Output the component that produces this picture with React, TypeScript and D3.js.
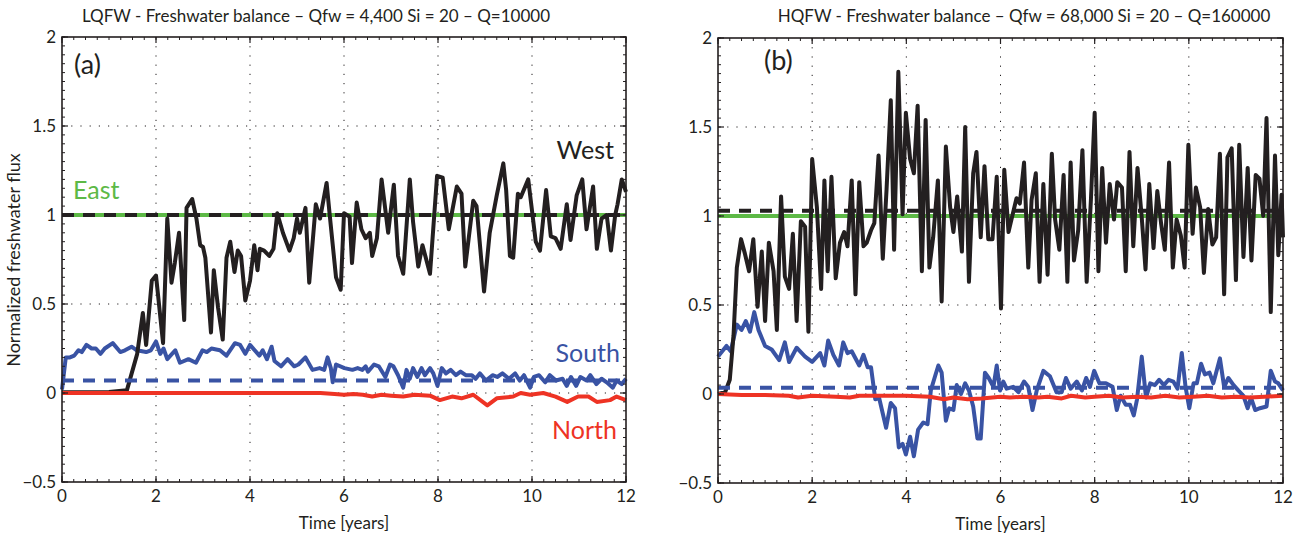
import React from "react";
import * as d3 from "d3";

// ---- data: [time (years), normalized flux] ----
const westA: [number, number][] = [
  [0, 0.004], [0.5, 0.004], [1.0, 0.006], [1.38, 0.015], [1.6, 0.22], [1.72, 0.45], [1.79, 0.27], [1.91, 0.63],
  [2.0, 0.66], [2.15, 0.28], [2.24, 0.98], [2.33, 0.62], [2.4, 0.73], [2.49, 0.9], [2.6, 0.41], [2.65, 1.04],
  [2.77, 1.09], [2.86, 0.98], [2.94, 0.83], [3.0, 0.82], [3.05, 0.76], [3.17, 0.34], [3.23, 0.69], [3.32, 0.48],
  [3.42, 0.3], [3.5, 0.76], [3.58, 0.85], [3.67, 0.68], [3.74, 0.8], [3.81, 0.77], [3.9, 0.52], [4.0, 0.63],
  [4.09, 0.83], [4.16, 0.69], [4.21, 0.81], [4.3, 0.8], [4.41, 0.77], [4.5, 0.81], [4.58, 1.01], [4.7, 0.9],
  [4.84, 0.8], [4.93, 0.87], [5.0, 0.98], [5.06, 0.9], [5.18, 1.04], [5.26, 0.62], [5.4, 1.06], [5.49, 0.98],
  [5.63, 1.18], [5.7, 0.99], [5.83, 0.65], [5.93, 0.58], [6.0, 1.01], [6.12, 0.99], [6.17, 0.73], [6.27, 1.07],
  [6.37, 0.92], [6.46, 0.87], [6.55, 0.9], [6.6, 0.77], [6.7, 0.87], [6.8, 1.2], [6.94, 0.9], [7.06, 1.17],
  [7.15, 0.77], [7.26, 0.67], [7.4, 1.2], [7.47, 0.96], [7.58, 0.71], [7.67, 0.83], [7.83, 0.67], [7.98, 1.22],
  [8.1, 1.21], [8.23, 0.92], [8.4, 1.16], [8.5, 1.12], [8.58, 0.71], [8.75, 1.08], [8.82, 1.05], [8.98, 0.57],
  [9.1, 0.9], [9.25, 1.11], [9.39, 1.29], [9.45, 1.14], [9.53, 0.77], [9.6, 0.76], [9.7, 1.12], [9.76, 1.1],
  [9.92, 1.2], [10.08, 0.85], [10.17, 0.8], [10.3, 1.14], [10.4, 0.88], [10.5, 0.87], [10.61, 0.81], [10.74, 1.06],
  [10.82, 0.86], [10.95, 1.11], [11.07, 1.2], [11.16, 0.92], [11.3, 1.16], [11.38, 0.81], [11.48, 0.98], [11.59, 1.0],
  [11.68, 0.8], [11.77, 1.0], [11.82, 1.06], [11.91, 1.2], [12.0, 1.13],
];

const southA: [number, number][] = [
  [0, 0.02], [0.08, 0.2], [0.17, 0.2], [0.26, 0.21], [0.35, 0.24], [0.42, 0.23], [0.52, 0.27], [0.63, 0.25],
  [0.72, 0.25], [0.82, 0.22], [0.91, 0.25], [1.08, 0.28], [1.24, 0.23], [1.34, 0.24], [1.48, 0.26], [1.59, 0.24],
  [1.79, 0.23], [1.89, 0.24], [2.0, 0.29], [2.09, 0.22], [2.16, 0.25], [2.24, 0.19], [2.41, 0.24], [2.51, 0.17],
  [2.69, 0.19], [2.85, 0.17], [2.99, 0.24], [3.08, 0.23], [3.18, 0.25], [3.36, 0.24], [3.5, 0.21], [3.68, 0.28],
  [3.79, 0.27], [3.9, 0.22], [4.0, 0.27], [4.2, 0.21], [4.27, 0.24], [4.36, 0.19], [4.46, 0.26], [4.52, 0.18],
  [4.66, 0.15], [4.8, 0.19], [4.94, 0.15], [5.03, 0.16], [5.18, 0.2], [5.33, 0.13], [5.48, 0.14], [5.58, 0.13],
  [5.65, 0.2], [5.72, 0.14], [5.76, 0.06], [5.83, 0.16], [6.01, 0.14], [6.18, 0.13], [6.29, 0.14], [6.39, 0.13],
  [6.46, 0.15], [6.51, 0.12], [6.64, 0.16], [6.74, 0.15], [6.88, 0.09], [6.98, 0.16], [7.05, 0.15], [7.15, 0.1],
  [7.26, 0.03], [7.33, 0.13], [7.4, 0.08], [7.47, 0.14], [7.56, 0.09], [7.65, 0.14], [7.72, 0.1], [7.83, 0.14],
  [7.9, 0.11], [7.99, 0.04], [8.08, 0.14], [8.17, 0.11], [8.27, 0.13], [8.38, 0.1], [8.48, 0.12], [8.59, 0.1],
  [8.72, 0.1], [8.8, 0.08], [8.89, 0.11], [9.02, 0.07], [9.16, 0.1], [9.26, 0.09], [9.37, 0.11], [9.51, 0.08],
  [9.64, 0.11], [9.74, 0.07], [9.83, 0.1], [9.96, 0.03], [10.04, 0.09], [10.15, 0.1], [10.28, 0.06], [10.38, 0.1],
  [10.51, 0.07], [10.65, 0.08], [10.74, 0.04], [10.83, 0.09], [10.94, 0.04], [11.03, 0.09], [11.16, 0.07], [11.24, 0.1],
  [11.37, 0.05], [11.48, 0.08], [11.59, 0.06], [11.72, 0.03], [11.8, 0.07], [11.91, 0.05], [12.0, 0.08],
];

const northA: [number, number][] = [
  [0, 0], [1.0, 0], [2.0, 0], [3.0, 0], [4.0, 0], [5.0, 0], [5.5, 0], [5.8, -0.005], [6.0, -0.01], [6.2, -0.005],
  [6.4, -0.01], [6.6, -0.02], [6.8, -0.01], [7.0, -0.015], [7.26, -0.02], [7.5, -0.01], [7.83, -0.015],
  [8.04, -0.04], [8.3, -0.02], [8.5, -0.03], [8.75, -0.01], [9.05, -0.07], [9.25, -0.03], [9.6, -0.02],
  [9.76, 0.0], [9.96, -0.01], [10.24, 0.0], [10.5, -0.02], [10.75, -0.05], [10.98, -0.02], [11.2, -0.02],
  [11.38, -0.05], [11.66, -0.04], [11.8, -0.02], [12.0, -0.04],
];

const westB: [number, number][] = [
  [0, 0.0], [0.15, 0.01], [0.25, 0.08], [0.33, 0.33], [0.4, 0.71], [0.49, 0.87], [0.57, 0.79], [0.66, 0.69],
  [0.75, 0.87], [0.84, 0.49], [0.93, 0.8], [1.0, 0.41], [1.08, 0.85], [1.18, 0.69], [1.25, 0.36], [1.34, 1.11],
  [1.42, 0.66], [1.51, 0.59], [1.59, 0.9], [1.67, 0.41], [1.76, 0.97], [1.85, 0.94], [1.92, 0.35], [2.0, 1.32],
  [2.1, 1.05], [2.19, 0.59], [2.26, 1.2], [2.33, 0.69], [2.41, 1.22], [2.5, 0.65], [2.59, 0.85], [2.68, 0.91],
  [2.75, 0.83], [2.84, 1.2], [2.92, 0.56], [3.0, 1.19], [3.09, 0.83], [3.16, 0.85], [3.25, 0.92], [3.32, 0.96],
  [3.41, 1.34], [3.5, 0.76], [3.58, 1.15], [3.67, 1.65], [3.74, 0.81], [3.83, 1.81], [3.92, 1.01], [3.99, 1.58],
  [4.08, 1.32], [4.16, 1.24], [4.24, 1.62], [4.33, 0.69], [4.41, 1.54], [4.49, 0.71], [4.57, 0.88], [4.67, 1.2],
  [4.75, 0.52], [4.84, 1.39], [4.93, 1.05], [5.0, 0.91], [5.08, 1.11], [5.18, 0.8], [5.25, 1.5], [5.33, 0.63],
  [5.42, 1.24], [5.49, 1.36], [5.58, 0.88], [5.66, 1.28], [5.74, 0.87], [5.83, 0.87], [5.92, 1.22], [6.01, 0.48],
  [6.08, 1.26], [6.17, 0.91], [6.34, 1.1], [6.41, 1.07], [6.5, 1.3], [6.59, 0.71], [6.66, 1.09], [6.75, 1.24],
  [6.83, 0.63], [6.91, 1.18], [7.0, 0.67], [7.09, 1.35], [7.16, 0.98], [7.25, 0.81], [7.34, 1.23], [7.42, 0.63],
  [7.49, 1.3], [7.56, 0.75], [7.65, 0.92], [7.74, 1.37], [7.83, 0.63], [7.92, 1.09], [8.0, 1.58], [8.08, 0.69],
  [8.16, 1.27], [8.24, 0.85], [8.32, 1.18], [8.41, 0.98], [8.48, 1.19], [8.58, 1.16], [8.66, 0.69], [8.74, 1.36],
  [8.82, 0.83], [8.91, 1.27], [9.0, 0.99], [9.08, 0.7], [9.16, 1.18], [9.25, 0.82], [9.33, 1.14], [9.41, 0.96],
  [9.49, 0.81], [9.58, 1.3], [9.66, 0.71], [9.74, 0.98], [9.83, 0.89], [9.91, 0.71], [9.99, 1.4], [10.08, 0.9],
  [10.15, 1.16], [10.24, 1.05], [10.32, 0.68], [10.41, 1.04], [10.5, 0.84], [10.58, 0.88], [10.66, 1.35],
  [10.75, 0.56], [10.82, 1.33], [10.91, 1.38], [11.0, 0.64], [11.07, 1.4], [11.16, 0.77], [11.25, 1.27],
  [11.33, 0.75], [11.42, 1.23], [11.5, 1.21], [11.58, 1.0], [11.65, 1.55], [11.74, 0.46], [11.83, 1.34],
  [11.9, 0.78], [11.97, 1.12], [12.0, 0.88],
];

const southB: [number, number][] = [
  [0, 0.21], [0.09, 0.24], [0.18, 0.27], [0.27, 0.24], [0.4, 0.39], [0.5, 0.36], [0.59, 0.41], [0.68, 0.35],
  [0.77, 0.46], [0.86, 0.36], [1.0, 0.27], [1.14, 0.25], [1.3, 0.19], [1.42, 0.29], [1.51, 0.18], [1.67, 0.26],
  [1.85, 0.21], [2.0, 0.18], [2.17, 0.23], [2.26, 0.16], [2.34, 0.3], [2.45, 0.22], [2.57, 0.16], [2.66, 0.29],
  [2.75, 0.23], [2.84, 0.24], [3.0, 0.16], [3.09, 0.22], [3.18, 0.15], [3.25, 0.15], [3.34, -0.03], [3.42, -0.02],
  [3.57, -0.19], [3.67, -0.05], [3.76, -0.08], [3.84, -0.3], [3.92, -0.28], [3.99, -0.34], [4.08, -0.24],
  [4.16, -0.35], [4.25, -0.2], [4.36, -0.16], [4.45, -0.17], [4.52, 0.02], [4.61, 0.1], [4.68, 0.16], [4.75, 0.12],
  [4.84, -0.15], [4.91, -0.08], [5.0, -0.09], [5.07, 0.05], [5.16, 0.0], [5.25, 0.06], [5.33, 0.02], [5.42, -0.07],
  [5.51, -0.25], [5.58, -0.25], [5.67, 0.12], [5.75, 0.09], [5.85, 0.04], [5.92, 0.16], [5.99, 0.02], [6.06, 0.07],
  [6.13, 0.03], [6.27, 0.04], [6.38, 0.01], [6.5, 0.07], [6.59, 0.04], [6.68, -0.09], [6.77, 0.02], [6.91, 0.13],
  [7.05, 0.1], [7.19, 0.01], [7.3, 0.01], [7.39, 0.09], [7.49, 0.03], [7.62, 0.07], [7.73, 0.02], [7.82, 0.09],
  [7.9, 0.04], [7.99, 0.13], [8.1, 0.06], [8.24, 0.06], [8.38, 0.04], [8.47, -0.09], [8.55, -0.01], [8.66, -0.06],
  [8.75, -0.06], [8.83, -0.12], [8.9, -0.03], [9.0, 0.21], [9.09, -0.02], [9.18, 0.06], [9.28, 0.05], [9.37, 0.08],
  [9.47, 0.05], [9.57, 0.08], [9.67, 0.07], [9.76, 0.03], [9.85, 0.23], [9.93, 0.04], [10.01, -0.08], [10.1, 0.06],
  [10.17, 0.06], [10.26, 0.17], [10.34, 0.11], [10.44, 0.12], [10.52, 0.06], [10.66, 0.2], [10.75, 0.04],
  [10.84, 0.09], [10.95, 0.05], [11.05, 0.02], [11.16, -0.01], [11.25, -0.08], [11.32, -0.02], [11.41, -0.09],
  [11.51, -0.08], [11.65, -0.07], [11.74, 0.13], [11.83, 0.07], [11.9, 0.06], [12.0, 0.02],
];

const northB: [number, number][] = [
  [0, 0], [0.5, -0.005], [1.0, -0.005], [1.5, -0.01], [1.7, -0.02], [2.0, -0.01], [2.5, -0.015], [2.8, -0.02],
  [3.0, -0.01], [3.5, -0.01], [4.0, -0.01], [4.5, -0.015], [4.8, -0.03], [5.0, -0.02], [5.3, -0.03], [5.6, -0.025],
  [6.0, -0.015], [6.2, -0.02], [6.5, -0.015], [6.8, -0.02], [7.0, -0.015], [7.3, -0.025], [7.5, -0.01], [7.8, -0.02],
  [8.0, -0.015], [8.3, -0.01], [8.6, -0.02], [8.9, -0.015], [9.2, -0.02], [9.5, -0.01], [9.8, -0.02], [10.1, -0.015],
  [10.4, -0.01], [10.7, -0.02], [11.0, -0.015], [11.3, -0.02], [11.6, -0.015], [12.0, -0.01],
];

// constant reference levels
const eastLevel = [1.0, 1.0];
const westTarget = [1.0, 1.03];
const southTarget = [0.07, 0.035];

const titles = [
  "LQFW - Freshwater balance \u2013 Qfw = 4,400 Si = 20 \u2013 Q=10000",
  "HQFW - Freshwater balance \u2013 Qfw = 68,000 Si = 20 \u2013 Q=160000",
];
const titleX = [316, 1024];
const panelTags = ["(a)", "(b)"];
const xTicks = [0, 2, 4, 6, 8, 10, 12];
const yTicks = [-0.5, 0, 0.5, 1, 1.5, 2];

const C = {
  black: "#231f20",
  green: "#5db946",
  blue: "#3953a4",
  red: "#ee3324",
};
const FONT = "Lato, 'Open Sans', sans-serif";

type PanelProps = {
  idx: number;
  left: number;
  right: number;
  top: number;
  bottom: number;
  west: [number, number][];
  south: [number, number][];
  north: [number, number][];
  showLabels: boolean;
};

function Panel({ idx, left, right, top, bottom, west, south, north, showLabels }: PanelProps) {
  const x = d3.scaleLinear().domain([0, 12]).range([left, right]);
  const y = d3.scaleLinear().domain([-0.5, 2]).range([bottom, top]);
  const line = d3
    .line<[number, number]>()
    .x((d) => x(d[0]))
    .y((d) => y(d[1]));

  const minorX = d3.range(0, 12.001, 0.25);
  const minorY = d3.range(-0.5, 2.001, 0.05);
  const fmt = (v: number) => String(v).replace("-", "\u2212");
  const sw = 4;

  return (
    <g>
      {/* grid */}
      {xTicks.slice(1, -1).map((t) => (
        <line key={"gx" + t} x1={x(t)} x2={x(t)} y1={top} y2={bottom} stroke={C.black} strokeWidth={1} strokeDasharray="1.2,8" />
      ))}
      {yTicks.slice(1, -1).map((t) => (
        <line key={"gy" + t} x1={left} x2={right} y1={y(t)} y2={y(t)} stroke={C.black} strokeWidth={1} strokeDasharray="1.2,8" />
      ))}

      {/* series */}
      <path d={line([[0, eastLevel[idx]], [12, eastLevel[idx]]])!} fill="none" stroke={C.green} strokeWidth={sw} />
      <path d={line(south)!} fill="none" stroke={C.blue} strokeWidth={sw} strokeLinejoin="round" />
      <path d={line(west)!} fill="none" stroke={C.black} strokeWidth={sw} strokeLinejoin="round" />
      <path d={line(north)!} fill="none" stroke={C.red} strokeWidth={sw} strokeLinejoin="round" />
      <path d={line([[0, southTarget[idx]], [12, southTarget[idx]]])!} fill="none" stroke={C.blue} strokeWidth={sw} strokeDasharray="12,9" />
      <path d={line([[0, westTarget[idx]], [12, westTarget[idx]]])!} fill="none" stroke={C.black} strokeWidth={sw} strokeDasharray="12,9" />

      {/* minor ticks */}
      {minorX.map((t) => (
        <g key={"mx" + t}>
          <line x1={x(t)} x2={x(t)} y1={bottom} y2={bottom - 3} stroke={C.black} strokeWidth={1} />
          <line x1={x(t)} x2={x(t)} y1={top} y2={top + 3} stroke={C.black} strokeWidth={1} />
        </g>
      ))}
      {minorY.map((t) => (
        <g key={"my" + t}>
          <line x1={left} x2={left + 3} y1={y(t)} y2={y(t)} stroke={C.black} strokeWidth={1} />
          <line x1={right} x2={right - 3} y1={y(t)} y2={y(t)} stroke={C.black} strokeWidth={1} />
        </g>
      ))}
      {/* major ticks */}
      {xTicks.map((t) => (
        <g key={"tx" + t}>
          <line x1={x(t)} x2={x(t)} y1={bottom} y2={bottom - 6} stroke={C.black} strokeWidth={1.2} />
          <line x1={x(t)} x2={x(t)} y1={top} y2={top + 6} stroke={C.black} strokeWidth={1.2} />
          <text x={x(t)} y={bottom + 20} textAnchor="middle" fontSize={17} fill={C.black}>
            {fmt(t)}
          </text>
        </g>
      ))}
      {yTicks.map((t) => (
        <g key={"ty" + t}>
          <line x1={left} x2={left + 6} y1={y(t)} y2={y(t)} stroke={C.black} strokeWidth={1.2} />
          <line x1={right} x2={right - 6} y1={y(t)} y2={y(t)} stroke={C.black} strokeWidth={1.2} />
          <text x={left - 6} y={y(t)} dy="0.35em" textAnchor="end" fontSize={17} fill={C.black}>
            {fmt(t)}
          </text>
        </g>
      ))}

      <rect x={left} y={top} width={right - left} height={bottom - top} fill="none" stroke={C.black} strokeWidth={1.6} />

      {/* titles */}
      <text x={titleX[idx]} y={22} textAnchor="middle" fontSize={17} fill={C.black}>
        {titles[idx]}
      </text>
      <text x={(left + right) / 2} y={bottom + 47} textAnchor="middle" fontSize={17} fill={C.black}>
        Time [years]
      </text>
      <text x={left + (idx === 0 ? 12 : 46)} y={top + (idx === 0 ? 37 : 32)} fontSize={27} fill={C.black}>
        {panelTags[idx]}
      </text>

      {showLabels && (
        <g fontSize={25}>
          <text x={left + 11} y={199} fill={C.green}>East</text>
          <text x={right - 12} y={159} textAnchor="end" fill={C.black}>West</text>
          <text x={right - 6} y={362} textAnchor="end" fill={C.blue}>South</text>
          <text x={right - 9} y={439} textAnchor="end" fill={C.red}>North</text>
        </g>
      )}
    </g>
  );
}

export default function App() {
  return (
    <svg
      width={1294}
      height={537}
      style={{ position: "absolute", left: 0, top: 0, background: "#fff", fontFamily: FONT }}
    >
      <Panel idx={0} left={62} right={626} top={37} bottom={482} west={westA} south={southA} north={northA} showLabels />
      <Panel idx={1} left={718} right={1283} top={38} bottom={483} west={westB} south={southB} north={northB} showLabels={false} />
      <text transform="translate(20,260) rotate(-90)" textAnchor="middle" fontSize={18} fill={C.black}>
        Normalized freshwater flux
      </text>
    </svg>
  );
}
